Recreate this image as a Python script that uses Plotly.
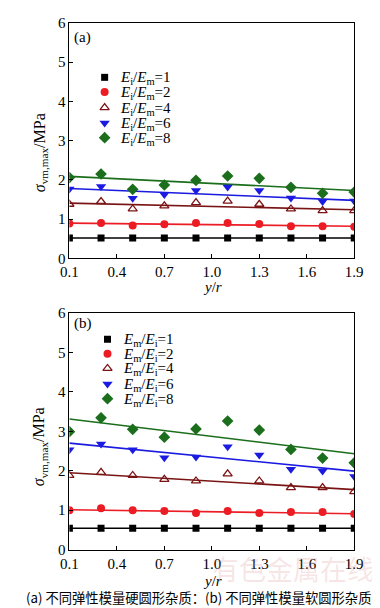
import plotly.graph_objects as go

W, H = 380, 608

# ---------------- data ----------------
x_vals = [0.1, 0.3, 0.5, 0.7, 0.9, 1.1, 1.3, 1.5, 1.7, 1.9]
x_ticks = [0.1, 0.4, 0.7, 1.0, 1.3, 1.6, 1.9]
x_tick_text = ["0.1", "0.4", "0.7", "1.0", "1.3", "1.6", "1.9"]
y_ticks = [0, 1, 2, 3, 4, 5, 6]

ratios = [1, 2, 4, 6, 8]

# panel (a): Ei/Em
a_r1 = [0.52, 0.52, 0.52, 0.52, 0.52, 0.52, 0.52, 0.52, 0.52, 0.52]
a_r2 = [0.89, 0.90, 0.84, 0.87, 0.90, 0.90, 0.88, 0.82, 0.82, 0.81]
a_r4 = [1.38, 1.45, 1.26, 1.34, 1.42, 1.46, 1.38, 1.26, 1.22, 1.22]
a_r6 = [1.77, 1.83, 1.53, 1.63, 1.73, 1.82, 1.73, 1.54, 1.45, 1.46]
a_r8 = [2.06, 2.15, 1.76, 1.87, 1.99, 2.10, 2.04, 1.81, 1.66, 1.69]
a_fit_start = [0.52, 0.90, 1.41, 1.78, 2.09]
a_fit_end = [0.52, 0.82, 1.24, 1.48, 1.73]

# panel (b): Em/Ei
b_r1 = [0.54, 0.54, 0.54, 0.54, 0.54, 0.54, 0.54, 0.54, 0.54, 0.54]
b_r2 = [1.00, 1.05, 1.00, 0.98, 0.93, 0.98, 0.93, 0.95, 0.95, 0.90]
b_r4 = [1.88, 1.96, 1.88, 1.78, 1.74, 1.92, 1.74, 1.57, 1.57, 1.47]
b_r6 = [2.53, 2.68, 2.53, 2.33, 2.35, 2.61, 2.40, 2.04, 1.99, 1.85]
b_r8 = [2.99, 3.34, 3.05, 2.85, 3.06, 3.26, 3.03, 2.54, 2.32, 2.20]
b_fit_start = [0.54, 1.01, 1.95, 2.70, 3.31]
b_fit_end = [0.54, 0.91, 1.52, 1.99, 2.43]

a_series = [a_r1, a_r2, a_r4, a_r6, a_r8]
b_series = [b_r1, b_r2, b_r4, b_r6, b_r8]

# ---------------- style ----------------
colors = ["#000000", "#ec1c24", "#7a1414", "#1a1ae0", "#1b6e1b"]
symbols = ["square", "circle", "triangle-up-open", "triangle-down", "diamond"]
msizes = [7, 8, 8, 9, 9]
SERIF = "Liberation Serif"

fig = go.Figure()

def add_panel(series, fs, fe, xa, ya):
    for i in range(5):
        fig.add_trace(go.Scatter(
            x=[x_vals[0], x_vals[-1]], y=[fs[i], fe[i]], mode="lines",
            line=dict(color=colors[i], width=1.6), showlegend=False,
            xaxis=xa, yaxis=ya, hoverinfo="skip"))
    for i in range(5):
        fig.add_trace(go.Scatter(
            x=x_vals, y=series[i], mode="markers",
            marker=dict(symbol=symbols[i], size=msizes[i], color=colors[i],
                        line=dict(color=colors[i], width=1.3 if i == 2 else 0)),
            showlegend=False, xaxis=xa, yaxis=ya))

add_panel(a_series, a_fit_start, a_fit_end, "x", "y")
add_panel(b_series, b_fit_start, b_fit_end, "x2", "y2")

# legend markers on a hidden pixel-coordinate overlay axis
leg_a_x, leg_a_y = 92, [63, 78, 94, 110, 125]
leg_b_x, leg_b_y = 95, [332, 347, 362, 378, 393]
for i in range(5):
    for lx, ly in ((leg_a_x, leg_a_y[i]), (leg_b_x, leg_b_y[i])):
        fig.add_trace(go.Scatter(
            x=[lx], y=[ly], mode="markers",
            marker=dict(symbol=symbols[i], size=msizes[i], color=colors[i],
                        line=dict(color=colors[i], width=1.3 if i == 2 else 0)),
            showlegend=False, xaxis="x3", yaxis="y3", hoverinfo="skip"))

def px_x(p):
    return p / W

def px_y(p):
    return 1 - p / H

xdom = [px_x(55), px_x(354)]
ydom_a = [px_y(249), px_y(7)]
ydom_b = [px_y(548), px_y(305)]

axis_common = dict(showline=True, linecolor="black", linewidth=1, mirror=True,
                   ticks="inside", ticklen=4, tickwidth=1, tickcolor="black",
                   showgrid=False, zeroline=False,
                   tickfont=dict(family=SERIF, size=15, color="black"))

fig.update_layout(
    width=W, height=H, autosize=False,
    margin=dict(l=0, r=0, t=0, b=0),
    paper_bgcolor="white", plot_bgcolor="rgba(0,0,0,0)",
    showlegend=False,
    xaxis=dict(domain=xdom, range=[0.1, 1.9], tickvals=x_ticks, ticktext=x_tick_text,
               anchor="y", **axis_common),
    yaxis=dict(domain=ydom_a, range=[0, 6], tickvals=y_ticks, anchor="x", **axis_common),
    xaxis2=dict(domain=xdom, range=[0.1, 1.9], tickvals=x_ticks, ticktext=x_tick_text,
                anchor="y2", **axis_common),
    yaxis2=dict(domain=ydom_b, range=[0, 6], tickvals=y_ticks, anchor="x2", **axis_common),
    xaxis3=dict(domain=[0, 1], range=[0, W], visible=False, anchor="y3", fixedrange=True),
    yaxis3=dict(domain=[0, 1], range=[H, 0], visible=False, anchor="x3", fixedrange=True),
)

ann = []

def text_ann(t, x, y, size=15, family=SERIF, xanchor="center", angle=0, color="black"):
    ann.append(dict(text=t, x=px_x(x), y=px_y(y), xref="paper", yref="paper",
                    showarrow=False, xanchor=xanchor, yanchor="middle", textangle=angle,
                    font=dict(family=family, size=size, color=color)))

# watermark
text_ann("有色金属在线", 290, 567, size=27, family="Noto Sans CJK SC",
         color="rgba(220,140,140,0.22)")

# legend text
for i, r in enumerate(ratios):
    text_ann(f"<i>E</i><sub>i</sub>/<i>E</i><sub>m</sub>={r}", 106, leg_a_y[i] + 1, xanchor="left")
    text_ann(f"<i>E</i><sub>m</sub>/<i>E</i><sub>i</sub>={r}", 109, leg_b_y[i] + 1, xanchor="left")

# panel labels
text_ann("(a)", 69, 22)
text_ann("(b)", 69, 316)

# axis titles
ytitle = "<i>σ</i><sub>vm,max</sub>/MPa"
text_ann(ytitle, 24, 140, size=16, angle=-90)
text_ann(ytitle, 24, 442, size=16, angle=-90)
text_ann("<i>y</i>/<i>r</i>", 205, 278, size=15)
text_ann("<i>y</i>/<i>r</i>", 205, 580, size=15)

# caption
text_ann("(a) 不同弹性模量硬圆形杂质：(b) 不同弹性模量软圆形杂质", 190, 597,
         size=13.3, family="Noto Sans CJK SC")

fig.update_layout(annotations=ann)
fig.write_html("out.html")
